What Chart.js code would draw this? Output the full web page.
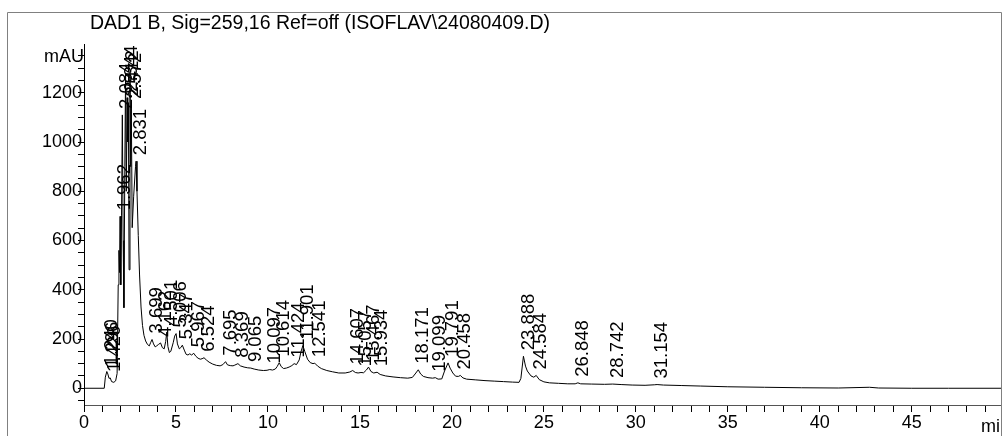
<!DOCTYPE html>
<html>
<head>
<meta charset="utf-8">
<script src="https://cdn.jsdelivr.net/npm/chart.js@4.4.1/dist/chart.umd.min.js"></script>
<style>
    html, body { margin: 0; padding: 0; background: #ffffff; }
    canvas { display: block; }
</style>
</head>
<body>
<canvas id="chromatogram_Chart" width="1004" height="436"></canvas>
<script>
// Signal trace, retention time (min) against absorbance (mAU)
const trace_time = [
    0, 1.10, 1.16, 1.240, 1.296, 1.36, 1.426, 1.50, 1.62, 1.72,
    1.80, 1.86, 1.90, 1.93, 1.962, 2.00, 2.04, 2.084, 2.13, 2.17,
    2.22, 2.26, 2.30, 2.344, 2.38, 2.412, 2.45, 2.50, 2.54, 2.572,
    2.62, 2.70, 2.80, 2.831, 2.88, 2.95, 3.02, 3.10, 3.18, 3.26,
    3.35, 3.45, 3.55, 3.62, 3.699, 3.78, 3.87, 3.95, 4.05, 4.162,
    4.26, 4.36, 4.44, 4.501, 4.56, 4.64, 4.72, 4.85, 4.93, 5.006,
    5.08, 5.18, 5.26, 5.347, 5.45, 5.55, 5.65, 5.75, 5.85, 5.967,
    6.08, 6.20, 6.32, 6.42, 6.524, 6.65, 6.80, 7.00, 7.20, 7.40,
    7.55, 7.695, 7.80, 7.95, 8.10, 8.20, 8.369, 8.50, 8.70, 8.90,
    9.065, 9.25, 9.50, 9.75, 9.95, 10.097, 10.25, 10.40, 10.50, 10.614,
    10.72, 10.85, 11.00, 11.15, 11.30, 11.424, 11.55, 11.70, 11.80, 11.901,
    12.00, 12.15, 12.30, 12.45, 12.541, 12.70, 12.90, 13.20, 13.50, 13.85,
    14.20, 14.45, 14.607, 14.75, 14.90, 15.057, 15.20, 15.35, 15.467, 15.60,
    15.75, 15.934, 16.10, 16.40, 16.80, 17.20, 17.60, 17.85, 18.00, 18.171,
    18.30, 18.45, 18.70, 18.95, 19.099, 19.25, 19.45, 19.60, 19.791, 19.90,
    20.05, 20.20, 20.35, 20.458, 20.60, 20.80, 21.30, 21.80, 22.30, 22.80,
    23.30, 23.65, 23.75, 23.888, 24.00, 24.10, 24.30, 24.45, 24.584, 24.75,
    25.00, 25.30, 25.80, 26.30, 26.70, 26.848, 27.00, 27.60, 28.30, 28.742,
    29.20, 29.80, 30.50, 31.00, 31.154, 31.50, 32.50, 33.50, 35.00, 37.00,
    39.00, 41.00, 42.70, 43.20, 45.00, 47.00, 49.85
]
const trace_mau = [
    0, 0, 45, 68, 58, 40, 42, 27, 24, 30,
    60, 420, 560, 470, 698, 420, 700, 1110, 600, 327,
    900, 1280, 800, 1180, 1000, 1160, 481, 1285, 900, 1150,
    652, 780, 900, 922, 800, 620, 460, 330, 255, 215,
    192, 178, 172, 185, 198, 180, 168, 172, 178, 184,
    165, 160, 190, 228, 170, 145, 150, 185, 212, 222,
    180, 160, 165, 175, 155, 138, 135, 140, 135, 142,
    130, 122, 118, 120, 124, 115, 106, 98, 93, 91,
    96, 108, 95, 92, 91, 94, 100, 91, 86, 83,
    82, 78, 74, 72, 73, 76, 74, 78, 88, 104,
    88, 80, 82, 86, 92, 100, 96, 115, 150, 173,
    150, 118, 104, 100, 102, 90, 80, 72, 67, 62,
    62, 66, 72, 64, 62, 64, 63, 74, 86, 68,
    62, 65, 56, 50, 46, 43, 41, 44, 58, 75,
    58, 48, 43, 41, 43, 37, 38, 70, 103, 82,
    62, 49, 48, 52, 42, 37, 34, 31, 29, 27,
    25, 24, 40, 130, 90, 70, 50, 45, 52, 35,
    26, 22, 20, 18, 18, 22, 18, 17, 16, 17,
    15, 13, 12, 14, 15, 13, 11, 9, 6, 4,
    2, 1, 4, 1, 0, 0, 0
]

// Integrated peaks, labelled with their retention times
const peak_times = [
    1.240, 1.296, 1.426, 1.962, 2.084, 2.344, 2.412, 2.572, 2.831, 3.699,
    4.162, 4.501, 5.006, 5.347, 5.967, 6.524, 7.695, 8.369, 9.065, 10.097,
    10.614, 11.424, 11.901, 12.541, 14.607, 15.057, 15.467, 15.934, 18.171, 19.099,
    19.791, 20.458, 23.888, 24.584, 26.848, 28.742, 31.154
]

const x_range = [0, 49.85]
const y_range = [-68, 1398]
const x_label_every = 5
const y_label_every = 200

const title_text = 'DAD1 B, Sig=259,16 Ref=off (ISOFLAV\\24080409.D)'
const font_family = '"Liberation Sans", Arial, Helvetica, sans-serif'

// Frame, title and axis units drawn around the plot
const frame_plugin = {
    id: 'frame_plugin',
    afterDraw(chart)
    {
        const ctx = chart.ctx
        ctx.save()
        ctx.strokeStyle = '#808080'
        ctx.lineWidth = 1
        ctx.beginPath()
        ctx.moveTo(7.5, 436)
        ctx.lineTo(7.5, 12.5)
        ctx.lineTo(1001.5, 12.5)
        ctx.lineTo(1001.5, 436)
        ctx.stroke()

        ctx.fillStyle = '#000000'
        ctx.font = `19.5px ${font_family}`
        ctx.textAlign = 'left'
        ctx.textBaseline = 'alphabetic'
        ctx.fillText(title_text, 90, 29)

        ctx.font = `18px ${font_family}`
        ctx.textAlign = 'right'
        ctx.fillText('mAU', chart.chartArea.left, 62)

        ctx.beginPath()
        ctx.rect(0, 0, 1001, 436)
        ctx.clip()
        ctx.textAlign = 'left'
        ctx.fillText('min', 981, 432)
        ctx.restore()
    }
}

// Retention time written upright above each peak apex
const peak_label_plugin = {
    id: 'peak_label_plugin',
    afterDatasetsDraw(chart)
    {
        const ctx = chart.ctx
        const x_scale = chart.scales.x
        const y_scale = chart.scales.y
        ctx.save()
        ctx.fillStyle = '#000000'
        ctx.font = `18.5px ${font_family}`
        ctx.textAlign = 'left'
        ctx.textBaseline = 'middle'
        for (const t of peak_times)
        {
            const i = trace_time.indexOf(t)
            const px = x_scale.getPixelForValue(t)
            const py = y_scale.getPixelForValue(trace_mau[i])
            ctx.save()
            ctx.translate(px + 5, py - 6)
            ctx.rotate(-Math.PI / 2)
            ctx.fillText(t.toFixed(3), 0, 0)
            ctx.restore()
        }
        ctx.restore()
    }
}

const ctx = document.getElementById('chromatogram_Chart').getContext('2d')
const chromatogram_chart = new Chart(ctx, {
    type: 'line',
    data: {
        datasets: [
            {
                data: trace_time.map((t, i) => ({x: t, y: trace_mau[i]})),
                borderColor: '#000000',
                borderWidth: 1,
                pointRadius: 0,
                tension: 0,
                fill: false
            }
        ]
    },
    options: {
        responsive: false,
        animation: false,
        devicePixelRatio: 1,
        layout: {
            padding: {left: 0, top: 44, right: 3, bottom: 0}
        },
        plugins: {
            legend: {display: false},
            tooltip: {enabled: false}
        },
        scales: {
            x: {
                type: 'linear',
                min: x_range[0],
                max: x_range[1],
                afterFit: scale => { scale.height = 31 },
                border: {display: true, color: '#555555', width: 1},
                grid: {drawOnChartArea: false, drawTicks: true, tickLength: 7, color: '#000000'},
                ticks: {
                    stepSize: 1,
                    autoSkip: false,
                    includeBounds: false,
                    maxRotation: 0,
                    padding: 0,
                    color: '#000000',
                    font: {family: font_family, size: 18},
                    callback: v => (v % x_label_every === 0 ? String(v) : '')
                }
            },
            y: {
                type: 'linear',
                min: y_range[0],
                max: y_range[1],
                afterFit: scale => { scale.width = 84 },
                border: {display: true, color: '#000000', width: 1},
                grid: {drawOnChartArea: false, drawTicks: true, tickLength: 6, color: '#000000'},
                ticks: {
                    stepSize: 50,
                    autoSkip: false,
                    includeBounds: false,
                    padding: -4,
                    color: '#000000',
                    font: {family: font_family, size: 18},
                    callback: v => (v % y_label_every === 0 ? String(v) : '')
                }
            }
        }
    },
    plugins: [frame_plugin, peak_label_plugin]
})
</script>
</body>
</html>
